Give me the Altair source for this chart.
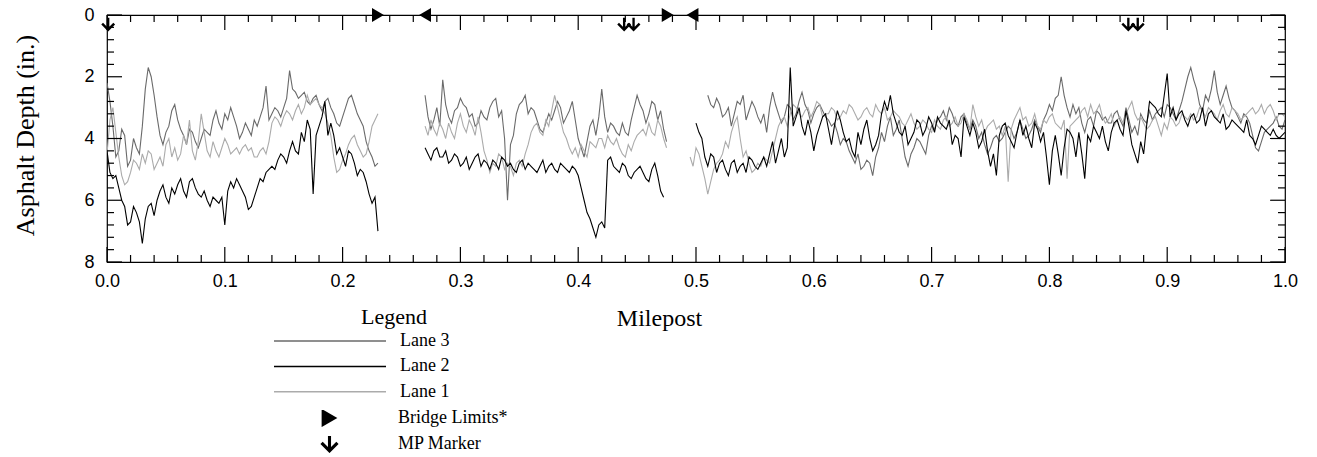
import altair as alt
import pandas as pd

# ---------------- data ----------------
# each segment: values at start + i*0.005 ("main") and at start + 0.0025 + j*0.005 ("mid")
STEP = 0.005
SEG_START = {"A": 0.000, "B": 0.270, "C": 0.495}

lane3_a = [2.2, 3.6, 4.4, 3.9, 4.7, 4.3, 3.6, 1.7, 2.6, 3.9, 3.8, 3.1, 3.4, 3.9, 3.7, 4.1,
           4.0, 3.8, 3.4, 3.5, 3.2, 3.0, 3.6, 3.8, 3.7, 3.4, 3.3, 2.3, 3.2, 3.1, 3.0, 1.8,
           2.5, 2.6, 2.8, 2.7, 2.9, 2.8, 3.0, 3.5, 3.3, 2.7, 2.9, 3.4, 4.1, 4.6, 4.8]
lane3_a_mid = [2.8, 4.6, 3.7, 4.9, 4.0, 4.5, 2.4, 2.0, 3.3, 4.2, 3.6, 2.9, 3.7, 4.2, 3.8, 4.3,
               3.7, 3.9, 3.1, 3.7, 3.4, 3.3, 4.0, 3.5, 3.9, 3.6, 3.0, 3.4, 3.0, 3.3, 2.7, 2.4,
               2.7, 2.5, 2.9, 2.6, 3.1, 2.7, 3.2, 3.6, 3.0, 2.6, 3.2, 3.6, 4.4, 4.9]
lane1_a = [4.5, 3.0, 4.6, 5.5, 5.1, 4.8, 4.5, 4.4, 5.0, 4.6, 4.2, 4.6, 4.7, 3.9, 3.4, 4.7,
           3.2, 4.4, 4.1, 4.6, 4.0, 4.5, 4.3, 4.3, 4.4, 4.6, 4.4, 4.5, 3.5, 3.4, 3.3, 3.2,
           3.1, 3.2, 2.6, 2.8, 2.9, 3.2, 3.9, 5.1, 4.7, 4.2, 3.9, 4.4, 4.5, 3.6, 3.2]
lane1_a_mid = [3.4, 3.8, 5.2, 5.4, 4.7, 5.0, 4.8, 4.5, 4.8, 4.9, 4.0, 4.3, 4.5, 4.2, 4.4, 4.1,
               3.8, 4.6, 4.4, 4.3, 4.2, 4.4, 4.5, 4.2, 4.3, 4.6, 4.3, 4.1, 3.3, 3.6, 3.1, 3.4,
               2.9, 3.0, 2.9, 2.7, 3.0, 3.5, 4.6, 5.0, 4.5, 4.0, 4.2, 4.6, 4.1, 3.4]
lane2_a = [4.4, 5.3, 5.6, 6.2, 6.7, 6.4, 7.4, 6.2, 6.5, 5.7, 5.9, 5.6, 5.5, 5.7, 5.4, 5.6,
           5.9, 6.0, 5.9, 6.1, 6.8, 5.4, 5.3, 5.7, 6.3, 5.9, 5.3, 5.1, 4.9, 4.7, 4.6, 4.4,
           4.4, 3.8, 3.4, 5.8, 3.6, 2.8, 3.5, 4.5, 4.6, 4.4, 4.8, 5.0, 5.4, 6.1, 7.0]
lane2_a_mid = [5.1, 5.2, 6.0, 6.8, 6.2, 6.7, 6.6, 6.1, 6.0, 5.5, 6.1, 5.8, 5.3, 5.9, 5.3, 5.8,
               5.7, 6.2, 6.0, 5.9, 5.7, 5.6, 5.5, 5.9, 6.2, 5.6, 5.4, 5.0, 5.0, 4.5, 4.8, 4.1,
               4.5, 4.1, 3.7, 3.9, 3.3, 3.9, 3.9, 4.3, 4.9, 4.5, 5.2, 5.1, 5.8, 5.9]

lane3_b = [2.6, 3.7, 3.0, 2.1, 3.3, 3.1, 2.7, 3.0, 3.2, 3.5, 3.3, 3.0, 2.7, 3.1, 6.0, 3.9,
           2.9, 2.6, 3.0, 3.4, 3.8, 3.2, 3.1, 3.0, 3.3, 2.8, 4.0, 4.6, 3.6, 3.9, 2.4, 3.8,
           3.6, 3.9, 3.8, 3.4, 2.6, 3.1, 3.2, 2.9, 3.1, 4.1]
lane3_b_mid = [3.3, 3.4, 3.6, 2.9, 3.5, 3.0, 2.9, 3.3, 3.6, 3.1, 3.4, 2.8, 3.3, 4.0, 4.2, 3.2,
               2.8, 3.2, 3.1, 3.7, 3.5, 3.4, 2.8, 3.5, 3.1, 3.4, 4.3, 4.1, 3.4, 3.3, 3.3, 3.5,
               3.8, 3.5, 3.9, 3.0, 2.9, 3.5, 2.8, 3.4, 3.7]
lane1_b = [3.6, 3.4, 3.9, 3.7, 3.5, 4.0, 3.2, 3.8, 3.6, 3.3, 4.4, 5.1, 4.9, 4.6, 4.8, 5.2,
           4.7, 4.5, 3.8, 3.5, 3.9, 3.6, 2.6, 3.4, 4.0, 4.5, 4.6, 4.4, 4.1, 4.3, 4.0, 3.9,
           4.2, 4.3, 4.6, 4.4, 3.9, 3.7, 3.5, 3.9, 3.6, 4.3]
lane1_b_mid = [3.9, 3.7, 3.5, 4.0, 3.8, 3.5, 3.6, 3.4, 3.9, 3.8, 4.7, 4.8, 4.5, 5.0, 4.9, 4.8,
               4.9, 4.2, 3.6, 3.8, 3.4, 3.1, 3.0, 3.8, 4.3, 4.3, 4.2, 4.6, 4.2, 4.0, 4.3, 4.1,
               4.0, 4.5, 4.2, 4.1, 3.8, 3.9, 3.8, 3.4, 4.0]
lane2_b = [4.3, 4.7, 4.3, 4.6, 4.8, 4.5, 4.9, 4.6, 4.8, 4.5, 4.7, 5.0, 4.8, 4.6, 4.9, 5.0,
           4.8, 5.0, 4.9, 5.1, 4.7, 4.9, 5.0, 4.8, 5.0, 4.9, 5.2, 6.0, 6.6, 7.2, 6.7, 4.7,
           4.9, 5.1, 4.9, 5.3, 5.0, 5.1, 5.4, 4.8, 5.7, None]
lane2_b_mid = [4.5, 4.4, 4.6, 4.4, 4.7, 4.6, 4.8, 5.0, 4.6, 4.9, 4.8, 4.7, 5.0, 4.7, 4.8, 5.1,
               4.7, 4.8, 5.0, 4.9, 5.1, 4.8, 5.1, 4.9, 5.1, 5.0, 5.6, 6.4, 6.9, 6.8, 6.9, 4.6,
               5.0, 4.8, 5.2, 5.1, 4.9, 5.3, 5.0, 5.2, 5.9]

lane3_c = [None, None, None, 2.6, 3.0, 2.9, 3.2, 3.6, 2.8, 2.6, 3.1, 3.0, 3.5, 3.8, 2.5, 3.2,
           3.3, 3.0, 3.2, 2.5, 3.1, 3.2, 2.9, 3.3, 3.6, 3.8, 4.0, 4.4, 4.8, 5.0, 4.7, 5.2,
           4.3, 4.1, 3.3, 3.7, 4.0, 4.9, 4.3, 4.1, 4.5, 3.6, 3.4, 3.1, 3.0, 3.5, 3.3, 3.5,
           3.4, 4.0, 4.2, 4.3, 3.9, 4.0, 3.6, 4.0, 3.4, 4.0, 3.7, 3.6, 3.4, 2.9, 2.7, 2.0,
           3.0, 2.9, 3.0, 3.8, 3.3, 3.1, 3.4, 3.5, 3.2, 3.4, 3.0, 3.8, 3.9, 3.4, 3.1, 3.2,
           3.0, 2.9, 3.2, 3.1, 2.4, 1.7, 2.4, 3.1, 2.8, 1.8, 2.9, 2.3, 3.0, 3.3, 3.2, 3.5,
           4.3, 4.1, 3.7, 3.5, 3.6, 3.4]
lane3_c_mid = [None, None, None,
               2.9, 2.7, 3.3, 3.0, 3.2, 2.9, 3.4, 2.8, 3.3, 3.2,
               3.0, 2.9, 3.5, 2.9, 3.4, 2.8, 2.9, 3.5, 3.0, 3.1,
               3.4, 3.5, 4.2, 4.1, 4.6, 4.5, 4.9, 4.8, 4.6, 3.8,
               3.6, 3.9, 3.4, 4.6, 4.5, 4.0, 4.3, 3.9, 3.7, 3.3,
               3.4, 3.2, 3.6, 3.2, 3.7, 3.6, 3.8, 4.5, 4.0, 4.1,
               3.8, 3.7, 3.8, 3.7, 3.9, 3.4, 3.8, 3.2, 3.1, 2.6,
               2.6, 3.3, 3.2, 3.5, 3.4, 3.6, 3.2, 3.3, 3.5, 3.1,
               3.6, 3.4, 3.6, 3.2, 3.5, 3.4, 3.1, 3.3, 3.0, 3.4,
               2.8, 2.0, 2.1, 2.9, 2.6, 2.4, 2.5, 2.6, 2.7, 3.1,
               3.5, 3.3, 3.9, 4.4, 3.8, 3.6, 3.3, 3.7]
lane1_c = [4.6, 4.3, 4.9, 5.8, 5.0, 4.7, 4.1, 3.8, 3.3, 4.6, 4.8, 5.0, 4.9, 4.7, 4.4, 3.6,
           3.3, 3.2, 3.0, 3.3, 3.0, 3.1, 2.9, 3.2, 3.0, 3.4, 3.1, 2.9, 3.2, 3.3, 3.0, 3.3,
           3.1, 3.0, 3.3, 3.2, 3.5, 3.4, 3.5, 3.6, 3.5, 3.8, 3.6, 3.4, 3.6, 3.3, 3.5, 3.4,
           2.9, 3.6, 3.8, 3.5, 3.7, 3.9, 5.4, 3.4, 3.0, 3.3, 3.5, 3.6, 3.4, 3.3, 3.5, 3.7,
           5.3, 3.5, 3.3, 3.0, 2.9, 3.1, 3.3, 3.4, 3.6, 3.3, 3.2, 2.8, 3.4, 3.5, 3.6, 3.3,
           3.9, 3.7, 3.4, 3.5, 3.3, 3.2, 3.3, 3.1, 3.0, 3.2, 3.1, 3.2, 3.0, 3.2, 3.3, 3.1,
           3.2, 2.9, 3.0, 3.1, 3.2, 3.3]
lane1_c_mid = [4.9, 4.5, 5.3, 5.4, 4.8, 4.5, 4.3, 3.5, 4.0, 4.4,
               5.1, 4.8, 4.6, 4.8, 4.0, 3.4, 3.6, 2.9, 3.2, 3.1,
               3.3, 2.8, 3.3, 3.2, 3.1, 3.3, 3.2, 3.0, 3.4, 3.1,
               3.2, 2.9, 3.2, 3.4, 3.1, 3.3, 3.6, 3.2, 3.7, 3.4,
               3.7, 3.4, 3.7, 3.3, 3.5, 3.6, 3.2, 3.7, 3.3, 3.4,
               3.6, 3.4, 3.6, 3.6, 3.7, 3.2, 3.4, 3.6, 3.2, 3.7,
               3.5, 3.2, 3.6, 3.4, 3.6, 3.4, 3.1, 3.3, 3.2, 2.9,
               3.5, 3.2, 3.4, 3.5, 3.0, 3.2, 3.3, 3.7, 3.4, 3.6,
               3.5, 3.3, 3.6, 3.2, 3.4, 3.4, 3.0, 3.3, 3.1, 3.4,
               2.9, 3.3, 3.1, 3.4, 3.2, 3.0, 3.1, 3.2, 2.9, 3.4, 3.2]
lane2_c = [None, 3.5, 4.0, 4.9, 4.6, 4.8, 5.0, 4.8, 5.1, 4.8, 4.6, 4.9, 4.8, 4.9, 4.1, 4.4,
           4.6, 1.7, 3.3, 3.6, 3.4, 4.4, 3.6, 3.2, 4.2, 3.1, 3.8, 4.0, 4.6, 4.2, 3.4, 4.4,
           3.9, 2.8, 2.6, 3.5, 3.9, 4.2, 3.8, 3.5, 3.7, 3.5, 3.3, 3.6, 3.4, 3.9, 4.6, 3.6,
           3.5, 4.3, 3.7, 4.9, 5.2, 3.6, 3.9, 4.3, 3.4, 3.6, 4.3, 3.7, 3.8, 5.5, 3.9, 5.2,
           3.7, 4.0, 3.8, 5.3, 4.1, 3.8, 3.6, 4.4, 3.5, 3.7, 3.1, 4.2, 4.8, 4.5, 2.8, 3.0,
           3.3, 1.9, 3.0, 3.2, 3.4, 3.3, 3.5, 3.0, 3.2, 3.3, 3.5, 3.7, 3.4, 3.6, 3.8, 3.9,
           4.2, 3.6, 3.8, 3.7, 4.0, 3.8]
lane2_c_mid = [None, 3.8, 4.6, 4.5, 5.1, 4.7, 5.2, 4.7, 4.9, 5.1,
               4.7, 5.0, 4.6, 4.5, 4.8, 4.0, 4.3, 3.6, 3.0, 3.9,
               3.8, 3.9, 3.3, 3.7, 3.6, 3.4, 4.1, 4.4, 3.8, 3.7,
               4.0, 4.2, 3.2, 3.1, 3.2, 3.8, 3.6, 4.0, 3.4, 3.9,
               3.3, 3.8, 3.5, 3.7, 4.2, 4.0, 3.3, 3.9, 3.8, 4.1,
               4.4, 4.5, 3.9, 3.5, 4.1, 3.8, 3.9, 4.0, 3.5, 4.1,
               4.6, 4.4, 4.5, 4.3, 3.8, 4.6, 4.5, 3.9, 3.6, 4.0,
               4.1, 3.8, 3.4, 3.9, 3.6, 4.5, 4.1, 3.6, 2.9, 3.2,
               2.6, 3.3, 3.4, 3.1, 3.6, 3.2, 3.4, 3.6, 3.1, 3.4,
               3.2, 3.6, 3.5, 3.7, 3.4, 4.0, 3.9, 3.7, 3.9, 3.9, 3.9]

LANES = ["Lane 3", "Lane 2", "Lane 1"]
LANE_COLORS = ["#6a6a6a", "#000000", "#ababab"]

series = [
    ("Lane 3", {"A": (lane3_a, lane3_a_mid), "B": (lane3_b, lane3_b_mid),
                "C": (lane3_c, lane3_c_mid)}),
    ("Lane 1", {"A": (lane1_a, lane1_a_mid), "B": (lane1_b, lane1_b_mid),
                "C": (lane1_c, lane1_c_mid)}),
    ("Lane 2", {"A": (lane2_a, lane2_a_mid), "B": (lane2_b, lane2_b_mid),
                "C": (lane2_c, lane2_c_mid)}),
]

# markers along the top edge
marker_mp = [0.230, 0.270, 0.476, 0.497, 0.001, 0.439, 0.447, 0.867, 0.875]
marker_depth = [0.0, 0.0, 0.0, 0.0, 0.31, 0.31, 0.31, 0.31, 0.31]
marker_kind = ["Bridge Limits*", "bridge end", "Bridge Limits*", "bridge end",
               "MP Marker", "MP Marker", "MP Marker", "MP Marker", "MP Marker"]

x_major = [0.0, 0.1, 0.2, 0.3, 0.4, 0.5, 0.6, 0.7, 0.8, 0.9, 1.0]
x_minor = [round(i * 0.02, 2) for i in range(51) if i % 5 != 0]
y_major = [0, 2, 4, 6, 8]
y_minor = [round(i * 0.4, 1) for i in range(21) if i % 5 != 0]

# ---------------- build tables ----------------
rows = []
for lane, segs in series:
    for seg, (main, mid) in segs.items():
        start = SEG_START[seg]
        for offset, vals in ((0.0, main), (STEP / 2, mid)):
            for i, v in enumerate(vals):
                if v is None:
                    continue
                rows.append({"mp": round(start + offset + i * STEP, 5), "depth": v,
                             "lane": lane, "seg": lane + seg})
df = pd.DataFrame(rows)
markers = pd.DataFrame({"mp": marker_mp, "depth": marker_depth, "kind": marker_kind})

W, H = 1178, 247
XS = alt.Scale(domain=[0, 1], nice=False, zero=False)
YS = alt.Scale(domain=[0, 8], reverse=True, nice=False)
ARROW = ("M-0.17,-1L0.17,-1L0.17,0.33L0.75,-0.25L1,0L0,1L-1,0"
         "L-0.75,-0.25L-0.17,0.33Z")

XAXIS = alt.Axis(
    values=x_major, format=".1f", ticks=False, domain=False, grid=False,
    labelFlush=False, labelOverlap=False,
    labelFont="Liberation Sans", labelFontSize=18, labelColor="black", labelPadding=10,
    title="Milepost", titleFont="Liberation Serif", titleFontSize=24,
    titleFontWeight="normal", titleColor="black", titleX=552, titleY=56,
    titleBaseline="middle", titleAlign="center")
YAXIS = alt.Axis(
    values=y_major, format="d", ticks=False, domain=False, grid=False,
    labelFlush=False, labelOverlap=False,
    labelFont="Liberation Sans", labelFontSize=18, labelColor="black", labelPadding=13,
    title="Asphalt Depth (in.)", titleFont="Liberation Serif", titleFontSize=26,
    titleFontWeight="normal", titleColor="black", titleAngle=-90, titleX=-82,
    titleY=120, titleBaseline="middle", titleAlign="center")

X = lambda: alt.X("mp:Q", scale=XS, axis=XAXIS, title="Milepost")
Y = lambda: alt.Y("depth:Q", scale=YS, axis=YAXIS, title="Asphalt Depth (in.)")

lines = alt.Chart(df).mark_line(strokeWidth=1.1, clip=True).encode(
    x=X(), y=Y(),
    color=alt.Color("lane:N", scale=alt.Scale(domain=LANES, range=LANE_COLORS),
                    legend=alt.Legend(
                        title="Legend", orient="none", legendX=166, legendY=292,
                        direction="vertical", padding=0,
                        titleFont="Liberation Serif", titleFontSize=22,
                        titleFontWeight="normal", titleColor="black",
                        titleAnchor="middle", titleAlign="left", titlePadding=4,
                        symbolType="stroke", symbolSize=12544, symbolStrokeWidth=1.5,
                        clipHeight=16, rowPadding=7.4, labelOffset=13,
                        labelFont="Liberation Serif", labelFontSize=18,
                        labelColor="black")),
    detail="seg:N",
)

marks = alt.Chart(markers).mark_point(filled=True, size=190, opacity=1,
                                      color="black").encode(
    x=X(), y=Y(),
    shape=alt.Shape("kind:N", scale=alt.Scale(
        domain=["Bridge Limits*", "MP Marker", "bridge end"],
        range=["triangle-right", ARROW, "triangle-left"]),
        legend=alt.Legend(
            title=None, orient="none", legendX=213, legendY=395, padding=0,
            values=["Bridge Limits*", "MP Marker"], direction="vertical",
            symbolSize=330, symbolFillColor="black", symbolStrokeColor="black",
            symbolStrokeWidth=0, clipHeight=16, rowPadding=8, labelOffset=59,
            labelFont="Liberation Serif", labelFontSize=18, labelColor="black")),
)


def tick_layer(vals, field, length, side):
    src = pd.DataFrame({field: vals})
    base = alt.Chart(src).mark_rule(color="black", strokeWidth=1.2)
    if field == "mp":
        enc = dict(x=X())
        if side == "top":
            enc.update(y=alt.value(0), y2=alt.value(length))
        else:
            enc.update(y=alt.value(H), y2=alt.value(H - length))
    else:
        enc = dict(y=Y())
        if side == "left":
            enc.update(x=alt.value(0), x2=alt.value(length))
        else:
            enc.update(x=alt.value(W), x2=alt.value(W - length))
    return base.encode(**enc)


ticks = [
    tick_layer(x_major, "mp", 15, "top"), tick_layer(x_minor, "mp", 7, "top"),
    tick_layer(x_major, "mp", 15, "bottom"), tick_layer(x_minor, "mp", 7, "bottom"),
    tick_layer(y_major, "depth", 15, "left"), tick_layer(y_minor, "depth", 7, "left"),
    tick_layer(y_major, "depth", 15, "right"), tick_layer(y_minor, "depth", 7, "right"),
]

chart = alt.layer(lines, *ticks, marks).properties(
    width=W, height=H,
    autosize=alt.AutoSizeParams(type="none"),
    padding={"left": 107, "top": 15, "right": 32, "bottom": 195},
    background="white",
).configure_view(stroke="black", strokeWidth=1.2)

chart.save("out.html", embed_options={"renderer": "svg", "actions": False})
